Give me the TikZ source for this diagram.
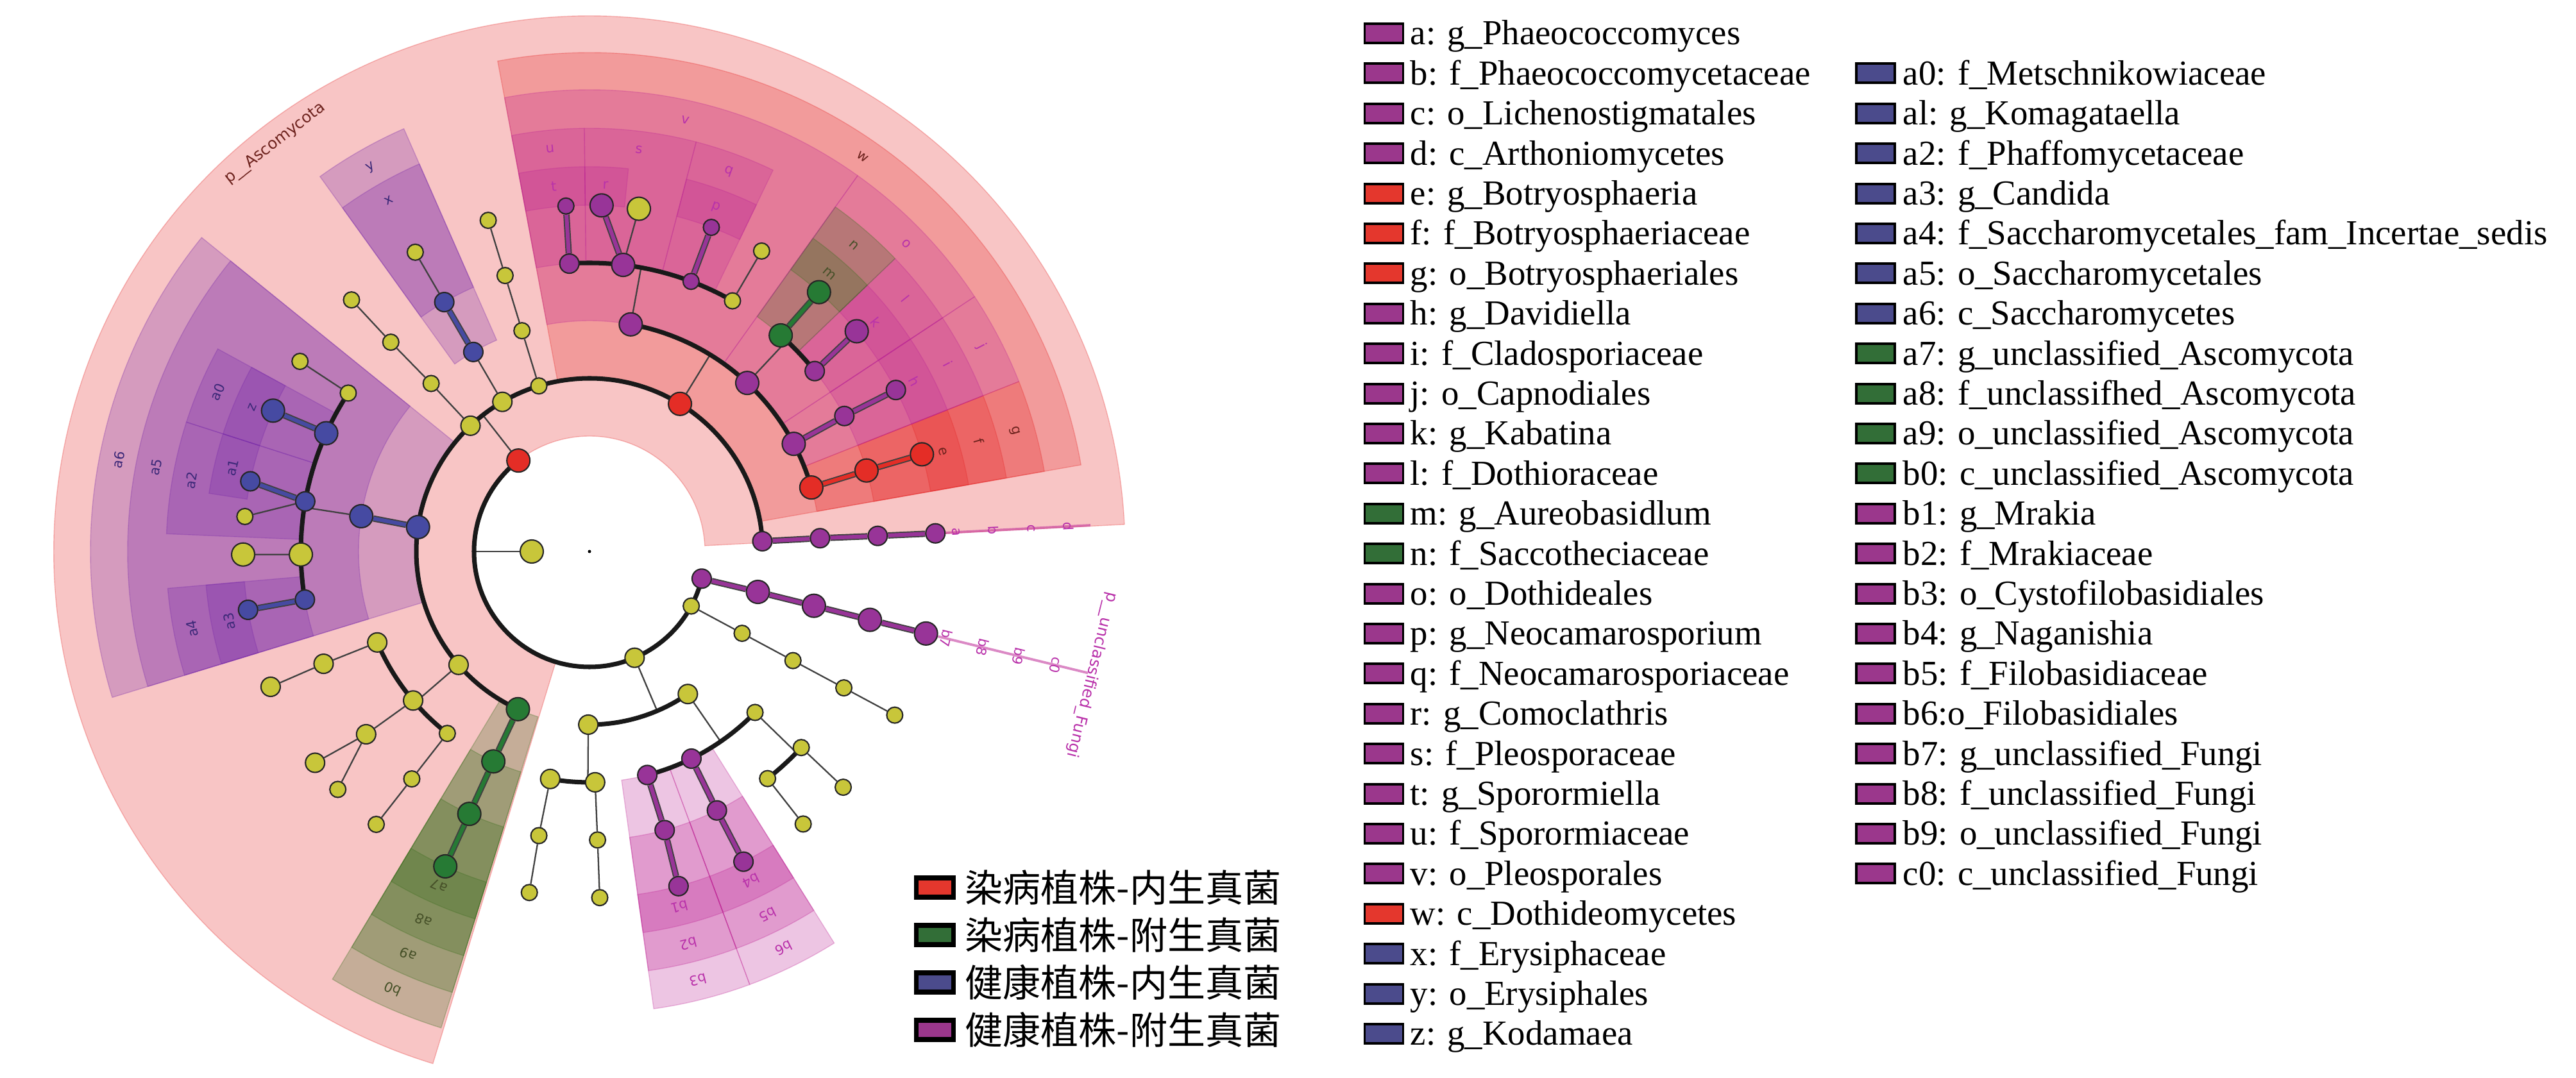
\documentclass[tikz,border=0pt]{standalone}
\usepackage{fontspec}
\setmainfont{Liberation Serif}
\newfontfamily\cjk{Noto Sans CJK SC}
\newfontfamily\cladefont{DejaVu Sans}
\usepackage{xcolor}
% node colours
\definecolor{nred}{RGB}{228,45,38}
\definecolor{ngrn}{RGB}{38,122,52}
\definecolor{nblu}{RGB}{70,74,162}
\definecolor{npur}{RGB}{152,52,152}
\definecolor{nyel}{RGB}{200,198,58}
% shading colours
\definecolor{sred}{RGB}{228,40,40}
\definecolor{sgrn}{RGB}{60,110,30}
\definecolor{sblu}{RGB}{120,40,170}
\definecolor{spur}{RGB}{190,40,150}
% label colours
\definecolor{tred}{RGB}{110,35,30}
\definecolor{tgrn}{RGB}{70,80,40}
\definecolor{tblu}{RGB}{60,40,120}
\definecolor{tpur}{RGB}{185,50,170}
% legend colours
\definecolor{lred}{RGB}{228,55,45}
\definecolor{lgrn}{RGB}{50,110,55}
\definecolor{lblu}{RGB}{75,75,140}
\definecolor{lpur}{RGB}{155,55,140}
\usepackage{tikz}
\usetikzlibrary{calc}
\pgfdeclarelayer{shade}
\pgfdeclarelayer{branch}
\pgfsetlayers{shade,branch,main}

% colour, from angle, to angle, inner radius, outer radius
\newcommand{\clade}[5]{\fill[#1,fill opacity=.27,draw=#1,draw opacity=.3,line width=.4pt]
  (#2:#4) arc[start angle=#2,end angle=#3,radius=#4] -- (#3:#5) arc[start angle=#3,end angle=#2,radius=#5] -- cycle;}
% colour, angle, radius, text
\newcommand{\cladelabel}[4]{\node[tag,text=#1,rotate=#2-90] (L#4) at (#2:#3) {#4};}

\begin{document}
\begin{tikzpicture}[
  nd/.style={circle,draw=black!85,line width=.6pt,inner sep=0pt,minimum size=.3cm},
  ndS/.style={minimum size=.25cm},
  ndL/.style={minimum size=.36cm},
  ny/.style={nd,fill=nyel}, nr/.style={nd,fill=nred}, ng/.style={nd,fill=ngrn},
  nb/.style={nd,fill=nblu}, np/.style={nd,fill=npur},
  twig/.style={line width=.65pt,black!75},
  trunk/.style={line width=2pt,black!90},
  bm/.style={line width=2.8pt,black!75,postaction={draw=#1,line width=1.7pt}},
  leafline/.style={line width=1.1pt,spur,opacity=.55},
  tag/.style={font=\cladefont\fontsize{6}{7}\selectfont,inner sep=0pt},
  ptag/.style={font=\cladefont\fontsize{7}{8}\selectfont,inner sep=0pt},
  lgbox/.style={draw=black,line width=1.1pt,minimum width=.6cm,minimum height=.3cm,inner sep=0pt},
  lgtext/.style={anchor=base west,inner sep=0pt,font=\fontsize{15.6}{18}\selectfont},
  gbox/.style={draw=black,line width=2pt,minimum width=.58cm,minimum height=.3cm,inner sep=0pt},
  gtext/.style={anchor=west,inner sep=0pt,font=\cjk\fontsize{16.8}{19}\selectfont}]
\useasboundingbox (0,0) rectangle (40.16,16.8);

\begin{scope}[shift={(9.19,8.2)}]
  % shaded clades
  \begin{pgfonlayer}{shade}
  \clade{sred}{2.9}{253}{1.8}{8.35}
  \clade{sred}{10}{100.6}{2.7}{7.78}
  \clade{sred}{10}{21.6}{3.6}{7.2}
  \clade{sred}{10}{21.6}{4.5}{6.6}
  \clade{sred}{10}{21.6}{5.4}{6.0}
  \clade{spur}{21.6}{33.5}{3.6}{7.2}
  \clade{spur}{21.6}{33.5}{4.5}{6.6}
  \clade{spur}{21.6}{33.5}{5.4}{6.0}
  \clade{spur}{33.5}{54.5}{3.6}{7.2}
  \clade{spur}{33.5}{43.8}{4.5}{6.6}
  \clade{spur}{33.5}{43.8}{5.4}{6.0}
  \clade{sgrn}{43.8}{54.5}{4.5}{6.6}
  \clade{sgrn}{43.8}{54.5}{5.4}{6.0}
  \clade{spur}{54.5}{100.6}{3.6}{7.2}
  \clade{spur}{90.7}{100.6}{4.5}{6.6}
  \clade{spur}{90.7}{100.6}{5.4}{6.0}
  \clade{spur}{75.4}{90.7}{4.5}{6.6}
  \clade{spur}{84.2}{90.7}{5.4}{6.0}
  \clade{spur}{64.3}{75.4}{4.5}{6.6}
  \clade{spur}{64.3}{75.4}{5.4}{6.0}
  \clade{sblu}{113.7}{125.7}{3.6}{7.2}
  \clade{sblu}{113.7}{125.7}{4.5}{6.6}
  \clade{sblu}{141}{197}{2.7}{7.78}
  \clade{sblu}{141}{197}{3.6}{7.2}
  \clade{sblu}{151.4}{162.2}{4.5}{6.6}
  \clade{sblu}{151.4}{162.2}{5.4}{6.0}
  \clade{sblu}{162.2}{177.6}{4.5}{6.6}
  \clade{sblu}{162.2}{171.3}{5.4}{6.0}
  \clade{sblu}{185}{197}{4.5}{6.6}
  \clade{sblu}{185}{197}{5.4}{6.0}
  \clade{sgrn}{239}{252.7}{2.7}{7.78}
  \clade{sgrn}{239}{252.7}{3.6}{7.2}
  \clade{sgrn}{239}{252.7}{4.5}{6.6}
  \clade{sgrn}{239}{252.7}{5.4}{6.0}
  \clade{spur}{278}{290.3}{3.6}{7.2}
  \clade{spur}{278}{290.3}{4.5}{6.6}
  \clade{spur}{278}{290.3}{5.4}{6.0}
  \clade{spur}{290.3}{302}{3.6}{7.2}
  \clade{spur}{290.3}{302}{4.5}{6.6}
  \clade{spur}{290.3}{302}{5.4}{6.0}
  \end{pgfonlayer}

  % root, kingdom, phyla
  \node[circle,fill=black,inner sep=0pt,minimum size=.05cm] (root) at (0,0) {};
  \node[ny,ndL] (K) at (180:0.9) {};
  \node[nr,ndL] (pA) at (128:1.8) {};
  \node[ny] (pB) at (293:1.8) {};
  \node[ny,ndS] (pC) at (331.8:1.8) {};
  \node[np] (pU) at (346.4:1.8) {};
  % Ascomycota classes
  \node[np] (d) at (3.4:2.7) {};
  \node[nr,ndL] (w) at (58.5:2.7) {};
  \node[ny,ndS] (c107) at (107:2.7) {};
  \node[ny] (cL) at (120.2:2.7) {};
  \node[ny] (c133) at (133.4:2.7) {};
  \node[nb,ndL] (a6) at (171.9:2.7) {};
  \node[ny] (c221) at (220.9:2.7) {};
  \node[ng,ndL] (b0) at (245.6:2.7) {};
  % d branch
  \node[np] (c) at (3.3:3.6) {};
  \node[np] (b) at (3.1:4.5) {};
  \node[np] (a) at (3.0:5.4) {};
  % w branch
  \node[nr,ndL] (g) at (16.1:3.6) {};
  \node[np,ndL] (j) at (27.8:3.6) {};
  \node[np,ndL] (o) at (46.9:3.6) {};
  \node[np,ndL] (v) at (79.7:3.6) {};
  \node[nr,ndL] (f) at (16.3:4.5) {};
  \node[nr,ndL] (e) at (16.3:5.4) {};
  \node[np] (i) at (28:4.5) {};
  \node[np] (h) at (27.8:5.4) {};
  \node[np] (l) at (38.7:4.5) {};
  \node[ng,ndL] (n) at (48.5:4.5) {};
  \node[np,ndL] (k) at (39.5:5.4) {};
  \node[ng,ndL] (m) at (48.5:5.4) {};
  \node[np] (u) at (94:4.5) {};
  \node[np,ndL] (s) at (83.3:4.5) {};
  \node[np,ndS] (q) at (69.4:4.5) {};
  \node[ny,ndS] (vF) at (60.3:4.5) {};
  \node[np,ndS] (t) at (93.9:5.4) {};
  \node[np,ndL] (r) at (88:5.4) {};
  \node[ny,ndL] (sG) at (81.8:5.4) {};
  \node[np,ndS] (p) at (69.4:5.4) {};
  \node[ny,ndS] (vG) at (60.2:5.4) {};
  % yellow classes with x, y
  \node[ny,ndS] (o107) at (107:3.6) {};
  \node[ny,ndS] (f107) at (107:4.5) {};
  \node[ny,ndS] (g107) at (107:5.4) {};
  \node[nb] (y) at (120.2:3.6) {};
  \node[nb] (x) at (120.2:4.5) {};
  \node[ny,ndS] (xG) at (120.2:5.4) {};
  \node[ny,ndS] (o133) at (133.3:3.6) {};
  \node[ny,ndS] (f133) at (133.5:4.5) {};
  \node[ny,ndS] (g133) at (133.4:5.4) {};
  % Saccharomycetes
  \node[nb,ndL] (a5) at (171.2:3.6) {};
  \node[ny,ndS] (f147) at (146.7:4.5) {};
  \node[nb,ndL] (a0) at (155.8:4.5) {};
  \node[nb] (a2) at (170:4.5) {};
  \node[ny,ndL] (f180) at (180.6:4.5) {};
  \node[nb] (a4) at (189.6:4.5) {};
  \node[ny,ndS] (g147) at (146.7:5.4) {};
  \node[nb,ndL] (z) at (156:5.4) {};
  \node[nb] (a1) at (168.3:5.4) {};
  \node[ny,ndS] (g174) at (174.2:5.4) {};
  \node[ny,ndL] (g180) at (180.5:5.4) {};
  \node[nb] (a3) at (189.7:5.4) {};
  % lower left yellow class
  \node[ny] (o203) at (203.2:3.6) {};
  \node[ny] (o220) at (220.2:3.6) {};
  \node[ny,ndS] (o232) at (232:3.6) {};
  \node[ny] (f203) at (202.9:4.5) {};
  \node[ny] (f219) at (219.3:4.5) {};
  \node[ny,ndS] (f232) at (232:4.5) {};
  \node[ny] (g203) at (203:5.4) {};
  \node[ny] (g218) at (217.6:5.4) {};
  \node[ny,ndS] (g223) at (223.4:5.4) {};
  \node[ny,ndS] (g232) at (232:5.4) {};
  % unclassified Ascomycota
  \node[ng,ndL] (a9) at (245.4:3.6) {};
  \node[ng,ndL] (a8) at (245.4:4.5) {};
  \node[ng,ndL] (a7) at (245.4:5.4) {};
  % phylum pB
  \node[ny] (cB1) at (269.6:2.7) {};
  \node[ny] (cB2) at (304.6:2.7) {};
  \node[ny] (oB1) at (260.2:3.6) {};
  \node[ny] (oB2) at (271.4:3.6) {};
  \node[ny,ndS] (fB1) at (259.9:4.5) {};
  \node[ny,ndS] (fB2) at (271.6:4.5) {};
  \node[ny,ndS] (gB1) at (260:5.4) {};
  \node[ny,ndS] (gB2) at (271.7:5.4) {};
  \node[np] (b3) at (284.5:3.6) {};
  \node[np] (b6) at (296.2:3.6) {};
  \node[ny,ndS] (oY) at (315.8:3.6) {};
  \node[np] (b2) at (285.1:4.5) {};
  \node[np] (b1) at (284.9:5.4) {};
  \node[np] (b5) at (296.2:4.5) {};
  \node[np] (b4) at (296.4:5.4) {};
  \node[ny,ndS] (fY1) at (308.1:4.5) {};
  \node[ny,ndS] (fY2) at (317.2:4.5) {};
  \node[ny,ndS] (gY1) at (308.1:5.4) {};
  \node[ny,ndS] (gY2) at (317.1:5.4) {};
  % phylum pC
  \node[ny,ndS] (cC) at (331.8:2.7) {};
  \node[ny,ndS] (oC) at (331.8:3.6) {};
  \node[ny,ndS] (fC) at (331.8:4.5) {};
  \node[ny,ndS] (gC) at (331.8:5.4) {};
  % unclassified Fungi
  \node[np,ndL] (c0) at (346.5:2.7) {};
  \node[np,ndL] (b9) at (346.4:3.6) {};
  \node[np,ndL] (b8) at (346.3:4.5) {};
  \node[np,ndL] (b7) at (346.3:5.4) {};

  % junctions on the arcs
  \coordinate (Kj) at (180:1.8);
  \coordinate (pAj) at (128:2.7);
  \coordinate (wj) at (58.5:3.6);
  \coordinate (oj) at (46.9:4.5);
  \coordinate (vj) at (79.7:4.5);
  \coordinate (a5j) at (171.2:4.5);
  \coordinate (c221j) at (220.9:3.6);
  \coordinate (pBj) at (293:2.7);
  \coordinate (cB1j) at (269.6:3.6);
  \coordinate (cB2j) at (304.6:3.6);
  \coordinate (oYj) at (315.8:4.5);
  \coordinate (dend) at (3.0:7.82);
  \coordinate (c0end) at (346.3:8.0);

  \begin{pgfonlayer}{branch}
  \draw[leafline] (a) -- (dend);
  \draw[leafline] (b7) -- (c0end);
  \draw[twig] (K) -- (Kj);
  \draw[trunk] (pA.center) arc[start angle=128,end angle=346.4,radius=1.8];
  \draw[twig] (pA) -- (pAj);
  \draw[trunk] (d.center) arc[start angle=3.4,end angle=245.6,radius=2.7];
  \draw[bm=npur] (d) -- (c) -- (b) -- (a);
  \draw[twig] (w) -- (wj);
  \draw[trunk] (g.center) arc[start angle=16.1,end angle=79.7,radius=3.6];
  \draw[bm=nred] (g) -- (f) -- (e);
  \draw[bm=npur] (j) -- (i) -- (h);
  \draw[twig] (o) -- (oj);
  \draw[trunk] (l.center) arc[start angle=38.7,end angle=48.5,radius=4.5];
  \draw[bm=npur] (l) -- (k);
  \draw[bm=ngrn] (n) -- (m);
  \draw[twig] (v) -- (vj);
  \draw[trunk] (vF.center) arc[start angle=60.3,end angle=94,radius=4.5];
  \draw[bm=npur] (u) -- (t);
  \draw[bm=npur] (s) -- (r);
  \draw[twig] (s) -- (sG);
  \draw[bm=npur] (q) -- (p);
  \draw[twig] (vF) -- (vG);
  \draw[twig] (c107) -- (o107) -- (f107) -- (g107);
  \draw[twig] (cL) -- (y);
  \draw[bm=nblu] (y) -- (x);
  \draw[twig] (x) -- (xG);
  \draw[twig] (c133) -- (o133) -- (f133) -- (g133);
  \draw[bm=nblu] (a6) -- (a5);
  \draw[twig] (a5) -- (a5j);
  \draw[trunk] (f147.center) arc[start angle=146.7,end angle=189.6,radius=4.5];
  \draw[twig] (f147) -- (g147);
  \draw[bm=nblu] (a0) -- (z);
  \draw[bm=nblu] (a2) -- (a1);
  \draw[twig] (a2) -- (g174);
  \draw[twig] (f180) -- (g180);
  \draw[bm=nblu] (a4) -- (a3);
  \draw[twig] (c221) -- (c221j);
  \draw[trunk] (o203.center) arc[start angle=203.2,end angle=232,radius=3.6];
  \draw[twig] (o203) -- (f203) -- (g203);
  \draw[twig] (o220) -- (f219);
  \draw[twig] (f219) -- (g218);
  \draw[twig] (f219) -- (g223);
  \draw[twig] (o232) -- (f232) -- (g232);
  \draw[bm=ngrn] (b0) -- (a9) -- (a8) -- (a7);
  \draw[twig] (pB) -- (pBj);
  \draw[trunk] (cB1.center) arc[start angle=269.6,end angle=304.6,radius=2.7];
  \draw[twig] (cB1) -- (cB1j);
  \draw[trunk] (oB1.center) arc[start angle=260.2,end angle=271.4,radius=3.6];
  \draw[twig] (oB1) -- (fB1) -- (gB1);
  \draw[twig] (oB2) -- (fB2) -- (gB2);
  \draw[twig] (cB2) -- (cB2j);
  \draw[trunk] (b3.center) arc[start angle=284.5,end angle=315.8,radius=3.6];
  \draw[bm=npur] (b3) -- (b2) -- (b1);
  \draw[bm=npur] (b6) -- (b5) -- (b4);
  \draw[twig] (oY) -- (oYj);
  \draw[trunk] (fY1.center) arc[start angle=308.1,end angle=317.2,radius=4.5];
  \draw[twig] (fY1) -- (gY1);
  \draw[twig] (fY2) -- (gY2);
  \draw[twig] (pC) -- (cC) -- (oC) -- (fC) -- (gC);
  \draw[bm=npur] (pU) -- (c0) -- (b9) -- (b8) -- (b7);
  \end{pgfonlayer}

  % clade labels
  \cladelabel{tpur}{3.0}{5.72}{a}
  \cladelabel{tpur}{3.0}{6.31}{b}
  \cladelabel{tpur}{3.0}{6.89}{c}
  \cladelabel{tpur}{3.0}{7.48}{d}
  \cladelabel{tred}{15.8}{5.72}{e}
  \cladelabel{tred}{15.8}{6.31}{f}
  \cladelabel{tred}{15.8}{6.89}{g}
  \cladelabel{tpur}{27.6}{5.72}{h}
  \cladelabel{tpur}{27.6}{6.31}{i}
  \cladelabel{tpur}{27.6}{6.89}{j}
  \cladelabel{tpur}{38.7}{5.72}{k}
  \cladelabel{tpur}{38.7}{6.31}{l}
  \cladelabel{tgrn}{49.2}{5.72}{m}
  \cladelabel{tgrn}{49.2}{6.31}{n}
  \cladelabel{tpur}{44.2}{6.89}{o}
  \cladelabel{tpur}{69.9}{5.72}{p}
  \cladelabel{tpur}{69.9}{6.31}{q}
  \cladelabel{tpur}{87.5}{5.72}{r}
  \cladelabel{tpur}{83}{6.31}{s}
  \cladelabel{tpur}{95.6}{5.72}{t}
  \cladelabel{tpur}{95.6}{6.31}{u}
  \cladelabel{tpur}{77.5}{6.89}{v}
  \cladelabel{tred}{55.3}{7.48}{w}
  \cladelabel{tblu}{119.7}{6.31}{x}
  \cladelabel{tblu}{119.7}{6.89}{y}
  \cladelabel{tblu}{156.8}{5.72}{z}
  \cladelabel{tblu}{156.8}{6.31}{a0}
  \cladelabel{tblu}{166.8}{5.72}{a1}
  \cladelabel{tblu}{169.9}{6.31}{a2}
  \cladelabel{tblu}{191}{5.72}{a3}
  \cladelabel{tblu}{191}{6.31}{a4}
  \cladelabel{tblu}{169}{6.89}{a5}
  \cladelabel{tblu}{169}{7.48}{a6}
  \cladelabel{tgrn}{245.8}{5.72}{a7}
  \cladelabel{tgrn}{245.8}{6.31}{a8}
  \cladelabel{tgrn}{245.8}{6.89}{a9}
  \cladelabel{tgrn}{245.8}{7.48}{b0}
  \cladelabel{tpur}{284.2}{5.72}{b1}
  \cladelabel{tpur}{284.2}{6.31}{b2}
  \cladelabel{tpur}{284.2}{6.89}{b3}
  \cladelabel{tpur}{296.1}{5.72}{b4}
  \cladelabel{tpur}{296.1}{6.31}{b5}
  \cladelabel{tpur}{296.1}{6.89}{b6}
  \cladelabel{tpur}{346.3}{5.72}{b7}
  \cladelabel{tpur}{346.3}{6.31}{b8}
  \cladelabel{tpur}{346.3}{6.89}{b9}
  \cladelabel{tpur}{346.3}{7.48}{c0}
  \node[ptag,text=tred,rotate=37.6] (pAlab) at (127.6:8.03) {p\_\_Ascomycota};
  \node[ptag,text=tpur,rotate=-103.8] (pUlab) at (346.2:8.06) {p\_\_unclassified\_Fungi};
\end{scope}

% group legend
\foreach \col/\txt [count=\i from 0] in {lred/染病植株-内生真菌, lgrn/染病植株-附生真菌, lblu/健康植株-内生真菌, lpur/健康植株-附生真菌} {
  \node[gbox,fill=\col] (gb\i) at (14.57,2.96-0.74*\i) {};
  \node[gtext] (gt\i) at (15.04,2.96-0.74*\i) {\txt};
}

% clade legend, first column
\foreach \col/\txt [count=\i from 0] in {
  lpur/{a: g\_Phaeococcomyces}, lpur/{b: f\_Phaeococcomycetaceae},
  lpur/{c: o\_Lichenostigmatales}, lpur/{d: c\_Arthoniomycetes},
  lred/{e: g\_Botryosphaeria}, lred/{f: f\_Botryosphaeriaceae},
  lred/{g: o\_Botryosphaeriales}, lpur/{h: g\_Davidiella},
  lpur/{i: f\_Cladosporiaceae}, lpur/{j: o\_Capnodiales},
  lpur/{k: g\_Kabatina}, lpur/{l: f\_Dothioraceae},
  lgrn/{m: g\_Aureobasidlum}, lgrn/{n: f\_Saccotheciaceae},
  lpur/{o: o\_Dothideales}, lpur/{p: g\_Neocamarosporium},
  lpur/{q: f\_Neocamarosporiaceae}, lpur/{r: g\_Comoclathris},
  lpur/{s: f\_Pleosporaceae}, lpur/{t: g\_Sporormiella},
  lpur/{u: f\_Sporormiaceae}, lpur/{v: o\_Pleosporales},
  lred/{w: c\_Dothideomycetes}, lblu/{x: f\_Erysiphaceae},
  lblu/{y: o\_Erysiphales}, lblu/{z: g\_Kodamaea}} {
  \node[lgbox,fill=\col] (ka\i) at (21.575,16.28-0.624*\i) {};
  \node[lgtext] (ta\i) at (21.98,16.1-0.624*\i) {\txt};
}

% clade legend, second column
\foreach \col/\txt [count=\i from 1] in {
  lblu/{a0: f\_Metschnikowiaceae}, lblu/{al: g\_Komagataella},
  lblu/{a2: f\_Phaffomycetaceae}, lblu/{a3: g\_Candida},
  lblu/{a4: f\_Saccharomycetales\_fam\_Incertae\_sedis},
  lblu/{a5: o\_Saccharomycetales}, lblu/{a6: c\_Saccharomycetes},
  lgrn/{a7: g\_unclassified\_Ascomycota}, lgrn/{a8: f\_unclassifhed\_Ascomycota},
  lgrn/{a9: o\_unclassified\_Ascomycota}, lgrn/{b0: c\_unclassified\_Ascomycota},
  lpur/{b1: g\_Mrakia}, lpur/{b2: f\_Mrakiaceae},
  lpur/{b3: o\_Cystofilobasidiales}, lpur/{b4: g\_Naganishia},
  lpur/{b5: f\_Filobasidiaceae}, lpur/{b6:o\_Filobasidiales},
  lpur/{b7: g\_unclassified\_Fungi}, lpur/{b8: f\_unclassified\_Fungi},
  lpur/{b9: o\_unclassified\_Fungi}, lpur/{c0: c\_unclassified\_Fungi}} {
  \node[lgbox,fill=\col] (kb\i) at (29.24,16.28-0.624*\i) {};
  \node[lgtext] (tb\i) at (29.66,16.1-0.624*\i) {\txt};
}
\end{tikzpicture}
\end{document}
